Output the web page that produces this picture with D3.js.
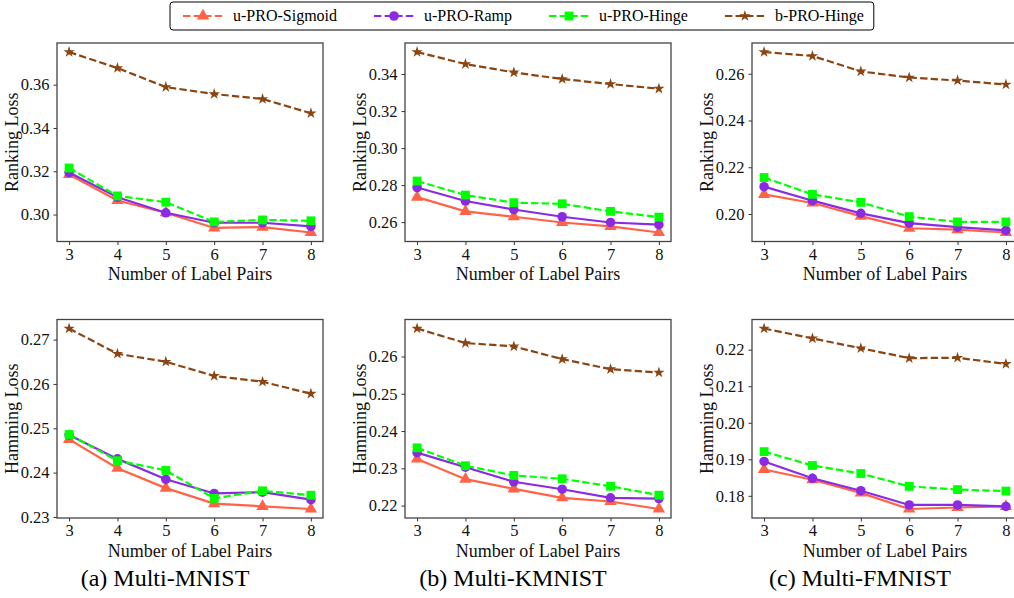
<!DOCTYPE html>
<html>
<head>
<meta charset="utf-8">
<script src="https://cdn.jsdelivr.net/npm/d3@7"></script>
<style>
  body { margin: 0; background: #fff; }
  svg, svg text { font-family: "Liberation Serif", "Tinos", "Times New Roman", "DejaVu Serif", serif !important; }
</style>
</head>
<body>
<svg id="chart" width="1014" height="598"></svg>
<script>
// data
const xs = [3, 4, 5, 6, 7, 8];
const methods = ["u-PRO-Sigmoid", "u-PRO-Ramp", "u-PRO-Hinge", "b-PRO-Hinge"];
const captions = ["(a) Multi-MNIST", "(b) Multi-KMNIST", "(c) Multi-FMNIST"];
const rowLabels = ["Ranking Loss", "Hamming Loss"];

// ranking loss
const rankMnistSigmoid = [0.3185, 0.3065, 0.3008, 0.2938, 0.2942, 0.2917];
const rankMnistRamp    = [0.3194, 0.3080, 0.3008, 0.2962, 0.2962, 0.2945];
const rankMnistHinge   = [0.3215, 0.3086, 0.3057, 0.2966, 0.2975, 0.2971];
const rankMnistB       = [0.3751, 0.3677, 0.3589, 0.3557, 0.3534, 0.3468];

const rankKmnistSigmoid = [0.2735, 0.2658, 0.2629, 0.2598, 0.2577, 0.2544];
const rankKmnistRamp    = [0.2787, 0.2714, 0.2668, 0.2629, 0.2598, 0.2586];
const rankKmnistHinge   = [0.2822, 0.2746, 0.2705, 0.2699, 0.2658, 0.2627];
const rankKmnistB       = [0.3519, 0.3454, 0.3409, 0.3373, 0.3346, 0.3321];

const rankFmnistSigmoid = [0.2084, 0.2047, 0.1991, 0.1939, 0.1933, 0.1921];
const rankFmnistRamp    = [0.2117, 0.2057, 0.2003, 0.1961, 0.1944, 0.1930];
const rankFmnistHinge   = [0.2156, 0.2084, 0.2050, 0.1989, 0.1966, 0.1966];
const rankFmnistB       = [0.2693, 0.2676, 0.2610, 0.2584, 0.2571, 0.2554];

// hamming loss
const hamMnistSigmoid = [0.2475, 0.2410, 0.2365, 0.2330, 0.2324, 0.2318];
const hamMnistRamp    = [0.2485, 0.2431, 0.2385, 0.2353, 0.2356, 0.2339];
const hamMnistHinge   = [0.2486, 0.2427, 0.2405, 0.2342, 0.2359, 0.2349];
const hamMnistB       = [0.2725, 0.2668, 0.2650, 0.2618, 0.2605, 0.2578];

const hamKmnistSigmoid = [0.2325, 0.2271, 0.2245, 0.2221, 0.2211, 0.2191];
const hamKmnistRamp    = [0.2342, 0.2303, 0.2264, 0.2244, 0.2221, 0.2219];
const hamKmnistHinge   = [0.2355, 0.2307, 0.2281, 0.2272, 0.2252, 0.2228];
const hamKmnistB       = [0.2675, 0.2636, 0.2627, 0.2593, 0.2566, 0.2557];

const hamFmnistSigmoid = [0.1872, 0.1844, 0.1808, 0.1764, 0.1768, 0.1771];
const hamFmnistRamp    = [0.1894, 0.1848, 0.1814, 0.1775, 0.1775, 0.1771];
const hamFmnistHinge   = [0.1921, 0.1883, 0.1861, 0.1826, 0.1817, 0.1813];
const hamFmnistB       = [0.2258, 0.2231, 0.2204, 0.2177, 0.2178, 0.2161];

// y tick labels per panel
const ticksRankMnist  = [0.30, 0.32, 0.34, 0.36];
const ticksRankKmnist = [0.26, 0.28, 0.30, 0.32, 0.34];
const ticksRankFmnist = [0.20, 0.22, 0.24, 0.26];
const ticksHamMnist   = [0.23, 0.24, 0.25, 0.26, 0.27];
const ticksHamKmnist  = [0.22, 0.23, 0.24, 0.25, 0.26];
const ticksHamFmnist  = [0.18, 0.19, 0.20, 0.21, 0.22];

const panels = [
  { row: 0, col: 0, series: [rankMnistSigmoid, rankMnistRamp, rankMnistHinge, rankMnistB], ticks: ticksRankMnist },
  { row: 0, col: 1, series: [rankKmnistSigmoid, rankKmnistRamp, rankKmnistHinge, rankKmnistB], ticks: ticksRankKmnist },
  { row: 0, col: 2, series: [rankFmnistSigmoid, rankFmnistRamp, rankFmnistHinge, rankFmnistB], ticks: ticksRankFmnist },
  { row: 1, col: 0, series: [hamMnistSigmoid, hamMnistRamp, hamMnistHinge, hamMnistB], ticks: ticksHamMnist },
  { row: 1, col: 1, series: [hamKmnistSigmoid, hamKmnistRamp, hamKmnistHinge, hamKmnistB], ticks: ticksHamKmnist },
  { row: 1, col: 2, series: [hamFmnistSigmoid, hamFmnistRamp, hamFmnistHinge, hamFmnistB], ticks: ticksHamFmnist }
];

// styles
const colors = ["#ff6347", "#8a2be2", "#00ff00", "#8b4513"];
const dashes = [null, null, "7.4,3.2", "7.4,3.2"];
const symbols = [d3.symbolTriangle, d3.symbolCircle, d3.symbolSquare, d3.symbolStar];
const symSizes = [66, 72, 78, 40];

const colLeft = [57, 405, 752],
      rowTop = [43, 319.5],
      pw = 266,
      ph = 198.5;

const svg = d3.select("#chart");

function addMarker(g, i, x, y) {
  g.append("path")
    .attr("d", d3.symbol().type(symbols[i]).size(symSizes[i])())
    .attr("transform", `translate(${x},${y})`)
    .attr("fill", colors[i]);
}

panels.forEach(p => {
  const g = svg.append("g")
    .attr("transform", `translate(${colLeft[p.col]},${rowTop[p.row]})`);

  const x = d3.scaleLinear().domain([2.75, 8.25]).range([0, pw]);
  const lo = d3.min(p.series, s => d3.min(s)),
        hi = d3.max(p.series, s => d3.max(s)),
        pad = (hi - lo) * 0.05;
  const y = d3.scaleLinear().domain([lo - pad, hi + pad]).range([ph, 0]);

  const xAxis = g.append("g")
    .attr("transform", `translate(0,${ph})`)
    .call(d3.axisBottom(x).tickValues(xs).tickFormat(d3.format("d")).tickSize(3.5).tickPadding(3));
  const yAxis = g.append("g")
    .call(d3.axisLeft(y).tickValues(p.ticks).tickFormat(d3.format(".2f")).tickSize(3.5).tickPadding(4));

  [xAxis, yAxis].forEach(a => {
    a.attr("font-family", null);
    a.select(".domain").remove();
    a.selectAll("line").attr("stroke", "#333");
    a.selectAll("text").attr("font-size", 16.5).attr("fill", "#111");
  });

  const line = d3.line().x((d, i) => x(xs[i])).y(d => y(d));

  p.series.forEach((s, i) => {
    g.append("path")
      .datum(s)
      .attr("d", line)
      .attr("fill", "none")
      .attr("stroke", colors[i])
      .attr("stroke-width", 2.2)
      .attr("stroke-dasharray", dashes[i]);
    s.forEach((v, j) => addMarker(g, i, x(xs[j]), y(v)));
  });

  g.append("rect")
    .attr("width", pw)
    .attr("height", ph)
    .attr("fill", "none")
    .attr("stroke", "#444")
    .attr("stroke-width", 1.3);

  g.append("text")
    .attr("transform", `translate(-43,${ph / 2}) rotate(-90)`)
    .attr("text-anchor", "middle")
    .attr("dominant-baseline", "middle")
    .attr("font-size", 18)
    .attr("fill", "#111")
    .text(rowLabels[p.row]);

  g.append("text")
    .attr("x", pw / 2)
    .attr("y", ph + 38.5)
    .attr("text-anchor", "middle")
    .attr("font-size", 18)
    .attr("fill", "#111")
    .text("Number of Label Pairs");
});

// captions
captions.forEach((c, i) => {
  svg.append("text")
    .attr("x", colLeft[i] + pw / 2 - 25)
    .attr("y", 586)
    .attr("text-anchor", "middle")
    .attr("font-size", 24)
    .attr("fill", "#000")
    .text(c);
});

// legend
const legend = svg.append("g");
const box = legend.append("rect")
  .attr("x", 170).attr("y", 2).attr("height", 28)
  .attr("rx", 3)
  .attr("fill", "#fff")
  .attr("stroke", "#000")
  .attr("stroke-width", 1);

let lx = 183;
methods.forEach((m, i) => {
  const item = legend.append("g");
  item.append("line")
    .attr("x1", lx).attr("x2", lx + 40)
    .attr("y1", 16).attr("y2", 16)
    .attr("stroke", colors[i])
    .attr("stroke-width", 2.2)
    .attr("stroke-dasharray", "7.4,3.2");
  addMarker(item, i, lx + 20, 16);
  const t = item.append("text")
    .attr("x", lx + 50)
    .attr("y", 21)
    .attr("font-size", 16)
    .attr("fill", "#000")
    .text(m);
  lx += 50 + t.node().getComputedTextLength() + 37;
});
box.attr("width", lx - 37 + 10 - 170);
</script>
</body>
</html>
